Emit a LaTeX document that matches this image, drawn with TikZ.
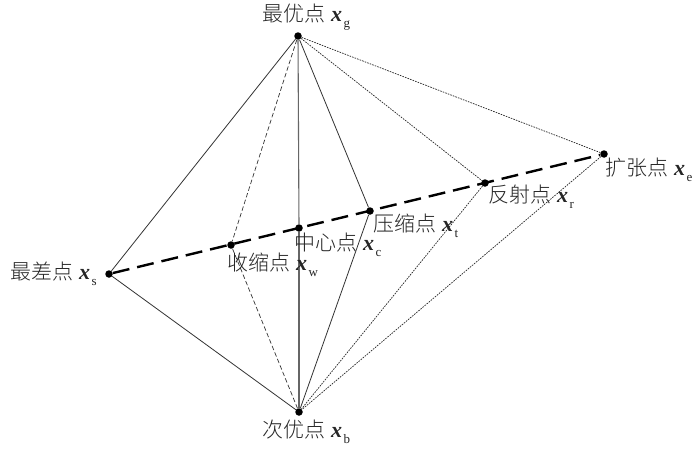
\documentclass[tikz,border=0pt]{standalone}
\usepackage{fontspec}
\setmainfont{Liberation Serif}
\newfontfamily\cjk{Noto Sans CJK SC}[UprightFont=* Light]
\newcommand{\ptlabel}[2]{{\cjk\fontsize{21}{24}\selectfont #1}\hspace{6pt}{\fontsize{22}{24}\selectfont\textbf{\textit{x}}}\hspace{1.5pt}\raisebox{-6pt}{\fontsize{13}{14}\selectfont #2}}
\begin{document}
\begin{tikzpicture}[x=1pt,y=-1pt,
  pt/.style={circle,fill=black,inner sep=0pt,minimum size=7.5pt},
  lab/.style={anchor=west,inner sep=0pt,text=black!85},
  solidline/.style={line width=0.8pt,draw=black!80},
  midline/.style={line width=1.1pt,draw=black!60},
  dashline/.style={line width=0.7pt,draw=black!80,dash pattern=on 4.5pt off 2.5pt},
  dotline/.style={line width=0.7pt,draw=black!85,dash pattern=on 1.6pt off 1.1pt},
  axisline/.style={line width=2.4pt,draw=black,dash pattern=on 17pt off 8pt}]
\useasboundingbox (0,0) rectangle (700,450);
\fill[white] (0,0) rectangle (700,450);
\node[pt] (g) at (298,36) {};
\node[pt] (b) at (299,412) {};
\node[pt] (s) at (109,274) {};
\node[pt] (e) at (604,154) {};
\node[pt] (r) at (485,183) {};
\node[pt] (t) at (370,211) {};
\node[pt] (c) at (299,228) {};
\node[pt] (w) at (231,245) {};
\draw[solidline] (g) -- (s);
\draw[solidline] (s) -- (b);
\draw[midline] (g) -- (c);
\draw[midline] (c) -- (b);
\draw[solidline] (g) -- (t);
\draw[solidline] (t) -- (b);
\draw[dashline] (g) -- (w);
\draw[dashline] (w) -- (b);
\draw[dotline] (g) -- (r);
\draw[dotline] (r) -- (b);
\draw[dotline] (g) -- (e);
\draw[dotline] (e) -- (b);
\draw[axisline] (s) -- (e);
\node[lab] (lg) at (262,17) {\ptlabel{最优点}{g}};
\node[lab] (ls) at (10,274) {\ptlabel{最差点}{s}};
\node[lab] (lb) at (262,432) {\ptlabel{次优点}{b}};
\node[lab] (lw) at (227,265) {\ptlabel{收缩点}{w}};
\node[lab] (lc) at (294,245) {\ptlabel{中心点}{c}};
\node[lab] (lt) at (373,226) {\ptlabel{压缩点}{t}};
\node[lab] (lr) at (488,197) {\ptlabel{反射点}{r}};
\node[lab] (le) at (605,170) {\ptlabel{扩张点}{e}};
\end{tikzpicture}
\end{document}
